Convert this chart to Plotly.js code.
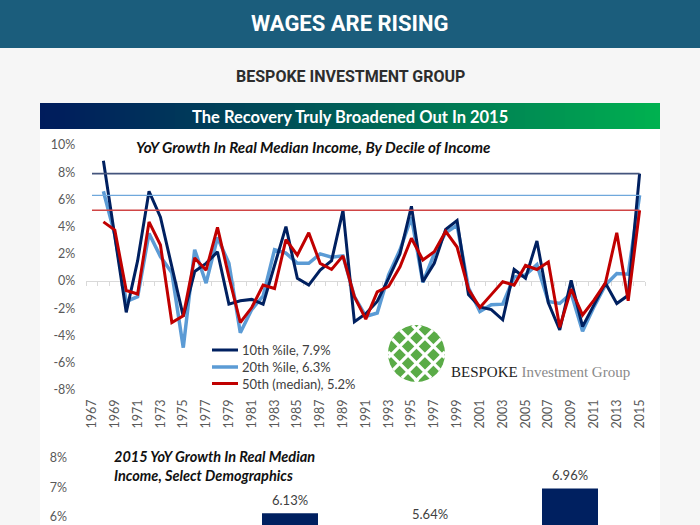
<!DOCTYPE html>
<html><head><meta charset="utf-8">
<script src="https://cdn.plot.ly/plotly-3.0.1.min.js"></script>
<style>html,body{margin:0;padding:0;background:#f6f6f6;overflow:hidden}#chart{width:700px;height:525px}</style>
</head><body><div id="chart"></div>
<script>
// ---------- DATA ----------
const years = [1968,1969,1970,1971,1972,1973,1974,1975,1976,1977,1978,1979,1980,1981,1982,1983,1984,1985,1986,1987,1988,1989,1990,1991,1992,1993,1994,1995,1996,1997,1998,1999,2000,2001,2002,2003,2004,2005,2006,2007,2008,2009,2010,2011,2012,2013,2014,2015];
const p10 = [8.85,3.4,-2.3,1.5,6.6,4.7,1.0,-2.6,0.7,1.3,2.15,-1.7,-1.45,-1.35,-1.7,1.2,4.0,0.2,-0.3,0.8,1.5,5.2,-3.0,-2.4,-1.5,0.2,2.0,5.5,-0.05,1.3,3.8,4.45,-1.0,-1.9,-2.1,-2.85,0.85,0.2,2.95,-1.6,-3.6,0.05,-3.35,-1.75,-0.15,-1.65,-1.05,7.9];
const p20 = [6.6,3.4,-1.5,-1.15,3.5,1.8,0.6,-4.9,2.3,-0.15,3.2,1.3,-3.8,-2.1,-1.1,2.3,2.05,1.3,1.3,2.0,1.75,1.85,-1.15,-2.6,-2.35,0.45,2.3,4.7,-0.1,2.0,3.55,4.1,-0.5,-2.25,-1.75,-1.7,0.3,0.45,1.2,-1.5,-1.65,-0.9,-3.7,-1.9,-0.3,0.55,0.5,6.3];
const p50 = [4.35,3.75,-0.7,-0.95,4.35,2.65,-3.05,-2.55,1.7,0.8,3.95,0.3,-3.05,-1.95,-0.3,-0.55,3.05,1.9,3.55,1.3,0.85,1.85,-1.15,-2.8,-0.8,-0.4,1.05,3.15,1.55,2.15,3.65,2.5,-0.6,-1.95,-1.0,-0.05,-0.3,1.15,0.85,1.4,-3.4,-0.6,-2.5,-1.4,-0.15,3.55,-1.45,5.2];
const seriesNames = ['10th %ile, 7.9%','20th %ile, 6.3%','50th (median), 5.2%'];
const latest2015 = [7.9, 6.3, 5.2];
const refSpan = [1967, 2015];
const xTickVals = [1967,1969,1971,1973,1975,1977,1979,1981,1983,1985,1987,1989,1991,1993,1995,1997,1999,2001,2003,2005,2007,2009,2011,2013,2015];
const xTickText = xTickVals.map(String);
const yTickVals = [-8,-6,-4,-2,0,2,4,6,8,10];
const yTickText = ['-8%','-6%','-4%','-2%','0%','2%','4%','6%','8%','10%'];

const demoCats = ['Group 2','Group 3','Group 4'];
const demoVals = [6.13, 5.64, 6.96];
const demoLabels = demoVals.map(v => v.toFixed(2) + '%');
const y2TickVals = [6,7,8];
const y2TickText = ['6%','7%','8%'];

// ---------- HELPERS ----------
const W=700,H=525;
const px = x => x/W, py = y => (H-y)/H;
const FONT = 'Lato, "Open Sans", sans-serif';

const navy='#002060', lblue='#5b9bd5', red='#c00000';
const seriesColors = [navy, lblue, red];
const seriesWidths = [3, 3.5, 3];
const y2Range = [5.73, 8.6];

const traces = [
  // reference lines (2015 levels) on overlay axis x3
  {x:refSpan, y:[latest2015[0],latest2015[0]], xaxis:'x3', yaxis:'y', mode:'lines', line:{color:'#44557d', width:1.6}, showlegend:false},
  {x:refSpan, y:[latest2015[1],latest2015[1]], xaxis:'x3', yaxis:'y', mode:'lines', line:{color:'#6fa8dc', width:1.4}, showlegend:false},
  {x:refSpan, y:[latest2015[2],latest2015[2]], xaxis:'x3', yaxis:'y', mode:'lines', line:{color:'#d04545', width:1.4}, showlegend:false},
  {x:years, y:p20, name:seriesNames[1], mode:'lines', line:{color:lblue, width:3.5}},
  {x:years, y:p10, name:seriesNames[0], mode:'lines', line:{color:navy, width:3}},
  {x:years, y:p50, name:seriesNames[2], mode:'lines', line:{color:red, width:3}},
  {type:'bar', x:demoCats, y:demoVals, xaxis:'x2', yaxis:'y2', width:0.4, marker:{color:navy}, cliponaxis:false}
];

// ---------- SHAPES (page decoration) ----------
const shapes = [];
shapes.push({type:'rect', xref:'paper', yref:'paper', x0:0, x1:1, y0:py(48), y1:1, fillcolor:'#1b5d7c', line:{width:0}, layer:'below'});
shapes.push({type:'rect', xref:'paper', yref:'paper', x0:px(40), x1:px(660), y0:0, y1:py(129), fillcolor:'#ffffff', line:{width:0}, layer:'below'});
// gradient banner
const cA=[0,28,92], cB=[0,178,80];
const NS=124;
for(let i=0;i<NS;i++){
  const t=(i+0.5)/NS;
  const tt=Math.pow(t,1.15);
  const c=cA.map((v,k)=>Math.round(v+(cB[k]-v)*tt));
  const xa=40+i*5;
  shapes.push({type:'rect', xref:'paper', yref:'paper', x0:px(xa), x1:px(Math.min(xa+5.6,660)), y0:py(129), y1:py(103),
    fillcolor:`rgb(${c[0]},${c[1]},${c[2]})`, line:{width:0}, layer:'below'});
}
// logo: green circle with white woven grid
const cx=416.5, cy=353.5, R=28.5;
shapes.push({type:'circle', xref:'paper', yref:'paper', x0:px(cx-R), x1:px(cx+R), y0:py(cy+R), y1:py(cy-R), fillcolor:'#5aab47', line:{width:0}});
const s2=Math.SQRT1_2;
[[s2,s2],[s2,-s2]].forEach(d=>{
  const n=[d[1],-d[0]];
  [-19,-7,5,17].forEach(o=>{
    const L=Math.sqrt(Math.max(R*R-o*o,0));
    const bx=cx+o*n[0], by=cy+o*n[1];
    shapes.push({type:'line', xref:'paper', yref:'paper', x0:px(bx-L*d[0]), y0:py(by-L*d[1]), x1:px(bx+L*d[0]), y1:py(by+L*d[1]), line:{color:'#ffffff', width:3.2}});
  });
});
// manual legend line samples
const legRows = [350, 367, 383.5];
legRows.forEach((yy,i)=>{
  shapes.push({type:'line', xref:'paper', yref:'paper', x0:px(212), x1:px(238), y0:py(yy), y1:py(yy), line:{color:seriesColors[i], width:seriesWidths[i]}});
});

// ---------- ANNOTATIONS ----------
const annotations = [
  {xref:'paper', yref:'paper', x:0.5, y:py(24), text:'WAGES ARE RISING', showarrow:false, xanchor:'center', yanchor:'middle',
   font:{family:'Roboto, sans-serif', size:22, color:'#ffffff', weight:700}},
  {xref:'paper', yref:'paper', x:0.5, y:py(77), text:'BESPOKE INVESTMENT GROUP', showarrow:false, xanchor:'center', yanchor:'middle',
   font:{family:'Roboto, sans-serif', size:16, color:'#2d2d2d', weight:700}},
  {xref:'paper', yref:'paper', x:0.5, y:py(116.5), text:'The Recovery Truly Broadened Out In 2015', showarrow:false, xanchor:'center', yanchor:'middle',
   font:{family:FONT, size:16.5, color:'#ffffff', weight:700}},
  {xref:'paper', yref:'paper', x:px(134), y:py(147), text:'<b><i>YoY Growth In Real Median Income, By Decile of Income</i></b>', showarrow:false, xanchor:'left', yanchor:'middle',
   font:{family:FONT, size:15.2, color:'#111111'}},
  {xref:'paper', yref:'paper', x:px(449), y:py(372), text:'<span style="color:#222222">BESPOKE</span> <span style="color:#8a8a8a">Investment Group</span>', showarrow:false, xanchor:'left', yanchor:'middle',
   font:{family:'"Liberation Serif", "DejaVu Serif", serif', size:15}},
  {xref:'paper', yref:'paper', x:px(112), y:py(446), text:'<b><i>2015 YoY Growth In Real Median<br>Income, Select Demographics</i></b>', showarrow:false, xanchor:'left', yanchor:'top', align:'left',
   font:{family:FONT, size:14.5, color:'#111111'}}
];
legRows.forEach((yy,i)=>{
  annotations.push({xref:'paper', yref:'paper', x:px(240), y:py(yy), text:seriesNames[i], showarrow:false, xanchor:'left', yanchor:'middle',
    font:{family:FONT, size:13, color:'#404040'}});
});
// bar value labels (y in the y2 axis' domain fraction so labels of bars below the visible range still show)
demoCats.forEach((c,i)=>{
  annotations.push({xref:'x2', yref:'y2 domain', x:c, y:(demoVals[i]-y2Range[0])/(y2Range[1]-y2Range[0]),
    text:demoLabels[i], showarrow:false, xanchor:'center', yanchor:'middle', yshift:13.5,
    font:{family:FONT, size:13, color:'#404040'}});
});

// ---------- LAYOUT ----------
const halfYears = [];
for(let v=1966.5; v<=2015.5; v+=1) halfYears.push(v);
const tickFont = {family:FONT, size:12.5, color:'#595959'};

const layout = {
  width:W, height:H, margin:{l:0,r:0,t:0,b:0},
  paper_bgcolor:'#f6f6f6', plot_bgcolor:'rgba(0,0,0,0)',
  showlegend:false,
  xaxis:{domain:[px(86.3), px(645.3)], range:[1966.5,2015.5], anchor:'y', tickmode:'array', tickvals:xTickVals, ticktext:xTickText,
    tickangle:-90, showgrid:false, zeroline:false, showline:false, ticks:'', tickfont:{family:FONT, size:12.5, color:'#595959'}, ticklabelstandoff:4},
  xaxis3:{overlaying:'x', anchor:'free', position:py(281), range:[1966.5,2015.5], tickmode:'array', tickvals:halfYears,
    ticks:'outside', ticklen:4, tickcolor:'#d9d9d9', showline:true, linecolor:'#d9d9d9', linewidth:1, showticklabels:false,
    showgrid:false, zeroline:false, layer:'below traces'},
  yaxis:{domain:[py(392), py(140)], range:[-8.16,10.37], anchor:'x', tickmode:'array', tickvals:yTickVals, ticktext:yTickText,
    showgrid:false, zeroline:false, showline:false, ticks:'', tickfont:tickFont, ticklabelstandoff:10},
  xaxis2:{domain:[px(80), px(640)], range:[-1.5,2.5], anchor:'y2', type:'category', showticklabels:false, showgrid:false, zeroline:false, showline:false, ticks:''},
  yaxis2:{domain:[0, py(440)], range:y2Range, anchor:'x2', tickmode:'array', tickvals:y2TickVals, ticktext:y2TickText,
    showgrid:false, zeroline:false, showline:false, ticks:'', tickfont:tickFont, ticklabelstandoff:12},
  shapes:shapes, annotations:annotations, hovermode:false
};

Plotly.newPlot('chart', traces, layout, {staticPlot:true, displayModeBar:false});
</script>
</body></html>
